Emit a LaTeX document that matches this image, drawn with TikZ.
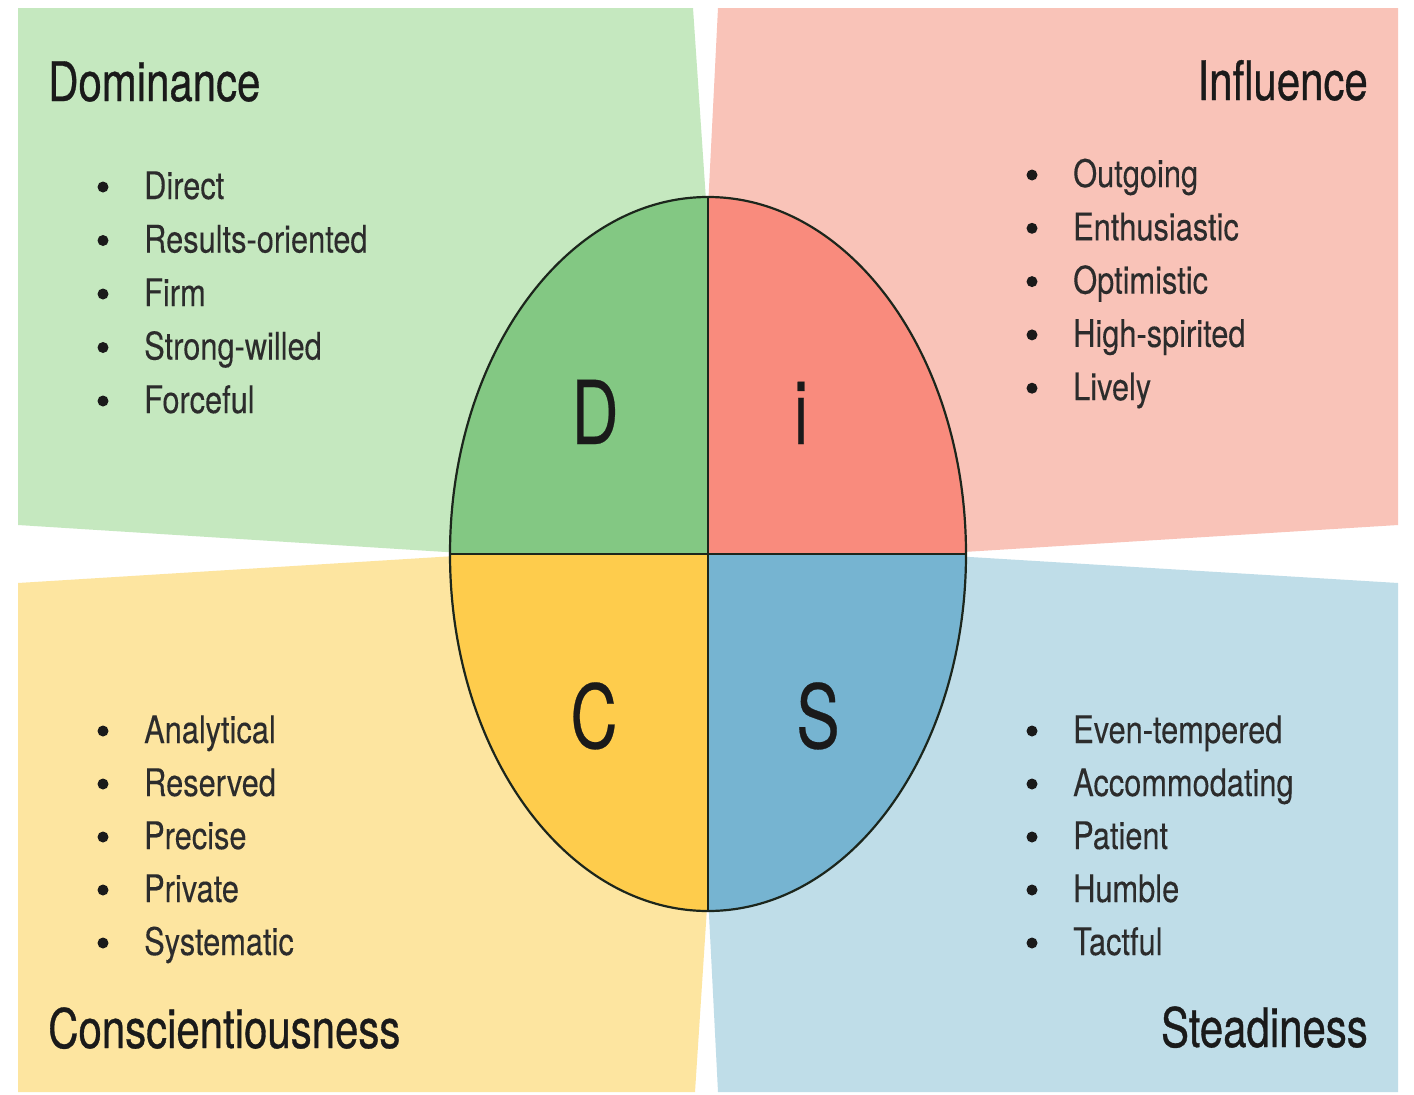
\documentclass[tikz,border=0pt]{standalone}
\usepackage{fontspec}
\newfontfamily\titlefont[FakeStretch=0.77,FakeBold=0.6]{TeX Gyre Heros}
\newfontfamily\itemfont[FakeStretch=0.81,FakeBold=0.2]{TeX Gyre Heros}
\newfontfamily\letterfont[FakeStretch=0.74,FakeBold=0.3]{TeX Gyre Heros}
\definecolor{pGreen}{HTML}{C5E8BF}
\definecolor{pPink}{HTML}{F9C3B8}
\definecolor{pYellow}{HTML}{FDE5A0}
\definecolor{pBlue}{HTML}{BFDDE8}
\definecolor{qGreen}{HTML}{83C883}
\definecolor{qPink}{HTML}{F98B7D}
\definecolor{qYellow}{HTML}{FECC4C}
\definecolor{qBlue}{HTML}{76B4D1}
\definecolor{outline}{HTML}{1C261C}
\definecolor{txt}{HTML}{1A1A1A}
\begin{document}
\begin{tikzpicture}[x=1pt,y=-1pt,
  ttl/.style={font=\titlefont\fontsize{54.5}{60}\selectfont, text=txt, inner sep=0pt},
  itm/.style={font=\itemfont\fontsize{38}{42}\selectfont, text=txt!92, inner sep=0pt},
  letr/.style={font=\letterfont\fontsize{88}{96}\selectfont, text=txt, inner sep=0pt},
  dot/.style={fill=txt}]
\fill[white] (0,0) rectangle (1414,1095);
\useasboundingbox (0,0) rectangle (1414,1095);
% panels
\fill[pGreen]  (18,8) -- (693,8) -- (731,570) -- (18,525) -- cycle;
\fill[pPink]   (718,8) -- (1398,8) -- (1398,525) -- (690,569) -- cycle;
\fill[pYellow] (18,583) -- (731,539) -- (695,1092) -- (18,1092) -- cycle;
\fill[pBlue]   (690,540) -- (1398,583) -- (1398,1092) -- (718,1092) -- cycle;
% circle
\coordinate (ctr) at (708,554);
\begin{scope}
  \clip (ctr) ellipse [x radius=258pt, y radius=357pt];
  \fill[qGreen]  (ctr) rectangle (400,150);
  \fill[qPink]   (ctr) rectangle (1000,150);
  \fill[qYellow] (ctr) rectangle (400,950);
  \fill[qBlue]   (ctr) rectangle (1000,950);
\end{scope}
\coordinate (cl) at (450,554);
\coordinate (cr) at (966,554);
\coordinate (ct) at (708,197);
\coordinate (cb) at (708,911);
\draw[outline, line width=2pt] (cl) -- (cr);
\draw[outline, line width=2pt] (ct) -- (cb);
\draw[outline, line width=2.2pt] (ctr) ellipse [x radius=258pt, y radius=357pt];
% letters
\node[letr, anchor=base] (LD) at (595,444) {D};
\node[letr, anchor=base] (Li) at (801,444) {i};
\node[letr, anchor=base] (LC) at (594,748) {C};
\node[letr, anchor=base] (LS) at (818,748) {S};
% titles
\node[ttl, anchor=base west] (tD) at (48,101) {Dominance};
\node[ttl, anchor=base east] (tI) at (1368,100) {Influence};
\node[ttl, anchor=base west] (tC) at (48,1048) {Conscientiousness};
\node[ttl, anchor=base east] (tS) at (1368,1047) {Steadiness};
% lists
\foreach \t [count=\k] in {Direct,Results-oriented,Firm,Strong-willed,Forceful}{
  \node[itm, anchor=base west] (d\k) at (144,{199+53.5*(\k-1)}) {\t};
  \fill[dot] (103,{187+53.5*(\k-1)}) circle (5.5pt);
}
\foreach \t [count=\k] in {Outgoing,Enthusiastic,Optimistic,High-spirited,Lively}{
  \node[itm, anchor=base west] (i\k) at (1073,{187+53.3*(\k-1)}) {\t};
  \fill[dot] (1032,{175+53.3*(\k-1)}) circle (5.5pt);
}
\foreach \t [count=\k] in {Analytical,Reserved,Precise,Private,Systematic}{
  \node[itm, anchor=base west] (c\k) at (144,{743+53*(\k-1)}) {\t};
  \fill[dot] (103,{731+53*(\k-1)}) circle (5.5pt);
}
\foreach \t [count=\k] in {Even-tempered,Accommodating,Patient,Humble,Tactful}{
  \node[itm, anchor=base west] (s\k) at (1073,{743+53*(\k-1)}) {\t};
  \fill[dot] (1032,{731+53*(\k-1)}) circle (5.5pt);
}
\end{tikzpicture}
\end{document}
